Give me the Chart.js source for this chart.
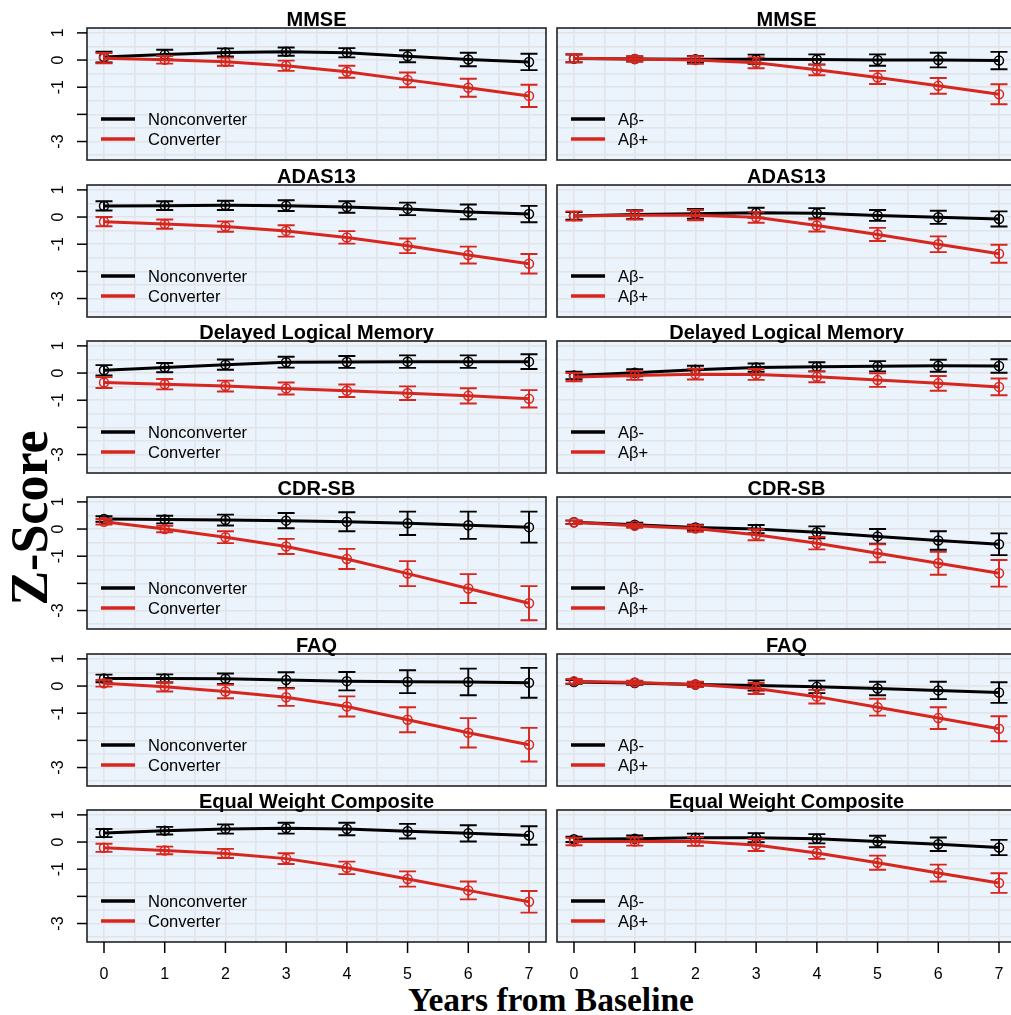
<!DOCTYPE html>
<html>
<head>
<meta charset="utf-8">
<script src="https://cdn.jsdelivr.net/npm/chart.js@4.4.1/dist/chart.umd.min.js"></script>
<style>
  body { margin: 0; background: #fff; width: 1011px; height: 1015px; overflow: hidden; position: relative; }
  canvas { position: absolute; }
  .axisTitle { position: absolute; font-family: "Liberation Serif", "DejaVu Serif", serif; font-weight: bold; color: #000; white-space: nowrap; }
  #zlab { font-size: 52px; left: 29px; top: 518px; transform: translate(-50%, -50%) rotate(-90deg); }
  #xlab { font-size: 33.5px; left: 551px; top: 1000px; transform: translate(-50%, -50%); }
</style>
</head>
<body>
<div id="zlab" class="axisTitle">Z-Score</div>
<div id="xlab" class="axisTitle">Years from Baseline</div>
<script>
// data
const years = [0, 1, 2, 3, 4, 5, 6, 7];
const tests = ['MMSE', 'ADAS13', 'Delayed Logical Memory', 'CDR-SB', 'FAQ', 'Equal Weight Composite'];
const leftLabels = ['Nonconverter', 'Converter'];
const rightLabels = ['A\u03b2-', 'A\u03b2+'];

// left column: nonconverter / converter (mean, half-width of error bar)
const nonconvMean = [
  [0.11, 0.20, 0.28, 0.31, 0.27, 0.14, 0.02, -0.07],
  [0.41, 0.42, 0.43, 0.42, 0.37, 0.30, 0.19, 0.11],
  [0.10, 0.20, 0.31, 0.40, 0.41, 0.42, 0.42, 0.42],
  [0.37, 0.35, 0.33, 0.31, 0.27, 0.21, 0.14, 0.07],
  [0.28, 0.28, 0.27, 0.22, 0.18, 0.16, 0.15, 0.12],
  [0.33, 0.42, 0.48, 0.51, 0.48, 0.40, 0.32, 0.24]
];
const nonconvErr = [
  [0.20, 0.18, 0.15, 0.15, 0.17, 0.22, 0.25, 0.30],
  [0.17, 0.16, 0.17, 0.20, 0.21, 0.23, 0.27, 0.30],
  [0.19, 0.17, 0.19, 0.20, 0.22, 0.23, 0.23, 0.27],
  [0.10, 0.14, 0.20, 0.28, 0.35, 0.43, 0.50, 0.57],
  [0.14, 0.15, 0.19, 0.29, 0.34, 0.42, 0.49, 0.55],
  [0.15, 0.14, 0.17, 0.20, 0.23, 0.27, 0.30, 0.34]
];
const convMean = [
  [0.07, 0.01, -0.06, -0.21, -0.43, -0.73, -1.02, -1.32],
  [-0.17, -0.26, -0.35, -0.51, -0.75, -1.06, -1.40, -1.72],
  [-0.35, -0.41, -0.48, -0.57, -0.65, -0.74, -0.84, -0.95],
  [0.27, 0.00, -0.30, -0.64, -1.10, -1.64, -2.19, -2.73],
  [0.10, -0.03, -0.20, -0.41, -0.75, -1.24, -1.72, -2.16],
  [-0.21, -0.31, -0.42, -0.61, -0.95, -1.36, -1.78, -2.20]
];
const convErr = [
  [0.19, 0.14, 0.15, 0.19, 0.22, 0.27, 0.33, 0.41],
  [0.17, 0.17, 0.19, 0.21, 0.23, 0.27, 0.31, 0.36],
  [0.20, 0.19, 0.20, 0.22, 0.23, 0.25, 0.28, 0.32],
  [0.10, 0.12, 0.22, 0.28, 0.37, 0.46, 0.53, 0.63],
  [0.12, 0.17, 0.25, 0.32, 0.37, 0.46, 0.54, 0.62],
  [0.15, 0.14, 0.17, 0.20, 0.23, 0.28, 0.33, 0.40]
];

// right column: amyloid negative / positive
const amyNegMean = [
  [0.06, 0.04, 0.03, 0.03, 0.02, 0.00, 0.00, -0.02],
  [0.04, 0.09, 0.12, 0.16, 0.14, 0.06, -0.01, -0.07],
  [-0.09, 0.01, 0.12, 0.20, 0.23, 0.25, 0.27, 0.26],
  [0.25, 0.16, 0.06, 0.00, -0.12, -0.27, -0.42, -0.56],
  [0.15, 0.11, 0.06, 0.02, -0.03, -0.09, -0.16, -0.24],
  [0.10, 0.12, 0.16, 0.16, 0.12, 0.02, -0.08, -0.20]
];
const amyNegErr = [
  [0.14, 0.09, 0.12, 0.17, 0.19, 0.21, 0.27, 0.32],
  [0.14, 0.16, 0.18, 0.18, 0.19, 0.20, 0.24, 0.28],
  [0.14, 0.13, 0.15, 0.15, 0.17, 0.19, 0.22, 0.25],
  [0.06, 0.07, 0.10, 0.15, 0.22, 0.27, 0.34, 0.40],
  [0.07, 0.06, 0.09, 0.19, 0.23, 0.25, 0.32, 0.38],
  [0.10, 0.12, 0.15, 0.17, 0.17, 0.21, 0.25, 0.28]
];
const amyPosMean = [
  [0.07, 0.04, 0.00, -0.10, -0.36, -0.64, -0.95, -1.26],
  [0.04, 0.07, 0.07, -0.01, -0.31, -0.64, -1.00, -1.35],
  [-0.15, -0.09, -0.04, -0.05, -0.14, -0.26, -0.38, -0.51],
  [0.25, 0.12, 0.02, -0.21, -0.52, -0.89, -1.26, -1.63],
  [0.18, 0.13, 0.06, -0.09, -0.39, -0.78, -1.18, -1.57],
  [0.02, 0.02, 0.02, -0.11, -0.40, -0.76, -1.14, -1.51]
];
const amyPosErr = [
  [0.15, 0.10, 0.14, 0.20, 0.20, 0.24, 0.29, 0.37],
  [0.17, 0.16, 0.19, 0.20, 0.22, 0.24, 0.29, 0.33],
  [0.15, 0.16, 0.20, 0.20, 0.20, 0.25, 0.27, 0.31],
  [0.07, 0.07, 0.12, 0.20, 0.23, 0.33, 0.42, 0.49],
  [0.08, 0.07, 0.10, 0.20, 0.25, 0.31, 0.40, 0.46],
  [0.14, 0.15, 0.16, 0.22, 0.22, 0.26, 0.31, 0.36]
];

const yTickMarks = [1, 0, -1, -2, -3];
const yTickLabels = ['1', '0', '-1', '', '-3'];
const xGrid = [0, 0.5, 1, 1.5, 2, 2.5, 3, 3.5, 4, 4.5, 5, 5.5, 6, 6.5, 7];
const yGrid = [-3.5, -3, -2.5, -2, -1.5, -1, -0.5, 0, 0.5, 1];

const RED = '#d7261e';
const BLACK = '#000000';
const SANS = '"Liberation Sans", Arial, Helvetica, sans-serif';

// panel geometry
const boxW = 459, boxH = 132;
const colLeft = [87, 557];
const rowTop = [28, 185, 341, 497, 654, 810];

const deco = {
  id: 'deco',
  beforeDraw(chart) {
    const a = chart.chartArea, ctx = chart.ctx;
    ctx.save();
    ctx.fillStyle = '#ebf3fc';
    ctx.fillRect(a.left, a.top, a.right - a.left, a.bottom - a.top);
    ctx.restore();
  },
  afterDatasetDraw(chart, args) {
    const ds = chart.data.datasets[args.index];
    const ctx = chart.ctx, xs = chart.scales.x, ys = chart.scales.y;
    ctx.save();
    ctx.strokeStyle = ds.borderColor;
    ctx.lineWidth = 1.9;
    ds.data.forEach((p, i) => {
      const px = xs.getPixelForValue(p.x);
      const lo = ys.getPixelForValue(p.y - ds.err[i]);
      const hi = ys.getPixelForValue(p.y + ds.err[i]);
      ctx.beginPath();
      ctx.moveTo(px, lo); ctx.lineTo(px, hi);
      ctx.moveTo(px - 8.5, lo); ctx.lineTo(px + 8.5, lo);
      ctx.moveTo(px - 8.5, hi); ctx.lineTo(px + 8.5, hi);
      ctx.stroke();
    });
    ctx.restore();
  },
  afterDraw(chart) {
    const a = chart.chartArea, ctx = chart.ctx, o = chart.options.plugins.deco;
    const xs = chart.scales.x, ys = chart.scales.y;
    ctx.save();
    // box
    ctx.strokeStyle = '#222';
    ctx.lineWidth = 1.6;
    ctx.strokeRect(a.left, a.top, a.right - a.left, a.bottom - a.top);
    // title
    ctx.fillStyle = '#000';
    ctx.font = 'bold 20px ' + SANS;
    ctx.textAlign = 'center';
    ctx.textBaseline = 'alphabetic';
    ctx.fillText(o.title, (a.left + a.right) / 2, a.top - 2);
    // legend
    chart.data.datasets.forEach((ds, i) => {
      const ly = a.top + 91 + i * 20;
      ctx.strokeStyle = ds.borderColor;
      ctx.lineWidth = 3.5;
      ctx.beginPath();
      ctx.moveTo(a.left + 14, ly); ctx.lineTo(a.left + 48, ly);
      ctx.stroke();
      ctx.fillStyle = '#000';
      ctx.font = '16.5px ' + SANS;
      ctx.textAlign = 'left';
      ctx.textBaseline = 'middle';
      ctx.fillText(ds.label, a.left + 61, ly + 1);
    });
    ctx.strokeStyle = '#000';
    ctx.fillStyle = '#000';
    ctx.lineWidth = 1.5;
    // y axis ticks (left column only)
    if (o.yAxis) {
      yTickMarks.forEach((v, i) => {
        const py = ys.getPixelForValue(v);
        ctx.beginPath();
        ctx.moveTo(a.left - 10, py); ctx.lineTo(a.left, py);
        ctx.stroke();
        if (yTickLabels[i]) {
          ctx.save();
          ctx.translate(a.left - 24, py);
          ctx.rotate(-Math.PI / 2);
          ctx.font = '16px ' + SANS;
          ctx.textAlign = 'center';
          ctx.textBaseline = 'alphabetic';
          ctx.fillText(yTickLabels[i], 0, 0);
          ctx.restore();
        }
      });
    }
    // x axis ticks (bottom row only)
    if (o.xAxis) {
      years.forEach(v => {
        const px = xs.getPixelForValue(v);
        ctx.beginPath();
        ctx.moveTo(px, a.bottom); ctx.lineTo(px, a.bottom + 11);
        ctx.stroke();
        ctx.font = '16px ' + SANS;
        ctx.textAlign = 'center';
        ctx.textBaseline = 'alphabetic';
        ctx.fillText(String(v), px, a.bottom + 37);
      });
    }
    ctx.restore();
  }
};

function series(label, color, mean, err, order) {
  return {
    label: label,
    data: years.map((x, i) => ({ x: x, y: mean[i] })),
    err: err,
    borderColor: color,
    borderWidth: 3,
    pointRadius: 4.5,
    pointBorderWidth: 1.5,
    pointBorderColor: color,
    pointBackgroundColor: 'rgba(0,0,0,0)',
    tension: 0,
    order: order
  };
}

function makePanel(row, col) {
  const padL = col === 0 ? 87 : 6;
  const padR = 6;
  const padT = 30;
  const padB = row === 5 ? 60 : 6;
  const canvas = document.createElement('canvas');
  canvas.width = boxW + padL + padR;
  canvas.height = boxH + padT + padB;
  canvas.style.left = (colLeft[col] - padL) + 'px';
  canvas.style.top = (rowTop[row] - padT) + 'px';
  document.body.appendChild(canvas);

  const labels = col === 0 ? leftLabels : rightLabels;
  const datasets = col === 0
    ? [series(labels[0], BLACK, nonconvMean[row], nonconvErr[row], 2),
       series(labels[1], RED, convMean[row], convErr[row], 1)]
    : [series(labels[0], BLACK, amyNegMean[row], amyNegErr[row], 2),
       series(labels[1], RED, amyPosMean[row], amyPosErr[row], 1)];

  new Chart(canvas, {
    type: 'line',
    data: { datasets: datasets },
    options: {
      responsive: false,
      animation: false,
      devicePixelRatio: 1,
      layout: { padding: { left: padL, right: padR, top: padT, bottom: padB } },
      plugins: {
        legend: { display: false },
        tooltip: { enabled: false },
        deco: { title: tests[row], yAxis: col === 0, xAxis: row === 5 }
      },
      scales: {
        x: {
          type: 'linear', min: -0.28, max: 7.28,
          ticks: { display: false },
          grid: { color: '#e2e4e8', lineWidth: 1.6, drawTicks: false },
          border: { display: false },
          afterBuildTicks: s => { s.ticks = xGrid.map(v => ({ value: v })); }
        },
        y: {
          type: 'linear', min: -3.68, max: 1.18,
          ticks: { display: false },
          grid: { color: '#e2e4e8', lineWidth: 1.6, drawTicks: false },
          border: { display: false },
          afterBuildTicks: s => { s.ticks = yGrid.map(v => ({ value: v })); }
        }
      }
    },
    plugins: [deco]
  });
}

for (let r = 0; r < tests.length; r++) {
  makePanel(r, 0);
  makePanel(r, 1);
}
</script>
</body>
</html>
